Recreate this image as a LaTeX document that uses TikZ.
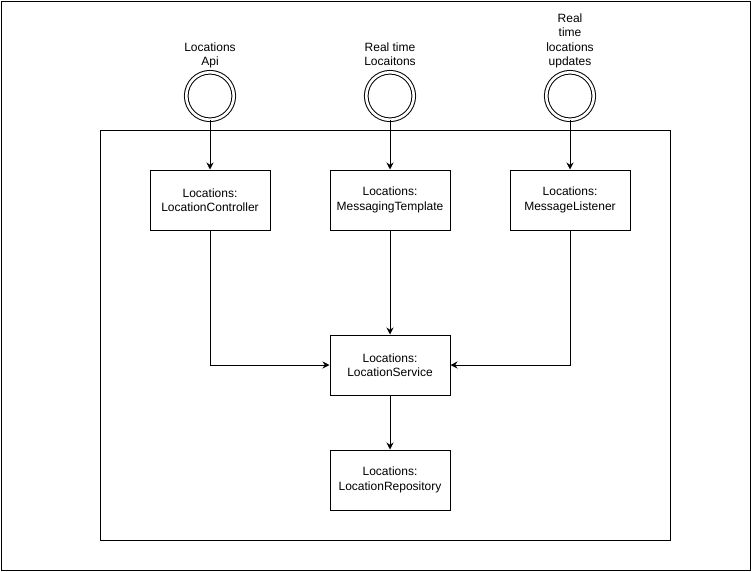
\documentclass[tikz,border=0pt]{standalone}
\usepackage{fontspec}
\setmainfont{Liberation Sans}
\usetikzlibrary{arrows.meta}
\begin{document}
\begin{tikzpicture}[x=1pt,y=-1pt,
  line width=1pt,
  every node/.style={font=\fontsize{12}{14.5}\selectfont},
  comp/.style={draw, minimum width=120pt, minimum height=60pt, align=center, inner sep=0pt},
  port/.style={draw, circle, double, double distance=2.6pt, minimum size=47.5pt, inner sep=0pt},
  lbl/.style={align=center, anchor=south, inner sep=0pt, text depth=2.5pt},
  arr/.style={-{Stealth[length=7pt,width=7pt,inset=2.3pt]}}
]
\useasboundingbox (0,0) rectangle (751,571);
\node[draw, line width=1.3pt, minimum width=749.5pt, minimum height=569.5pt, anchor=north west, inner sep=0pt] (frame) at (0.65,0.65) {};
\node[draw, minimum width=570pt, minimum height=410pt, anchor=north west, inner sep=0pt] (sys) at (100,130) {};

\node[port] (p1) at (210,96) {};
\node[port] (p2) at (390,96) {};
\node[port] (p3) at (570,96) {};

\node[lbl] (l1) at (210,68.5) {Locations\\Api};
\node[lbl] (l2) at (390,68.5) {Real time\\Locaitons};
\node[lbl] (l3) at (570,68.5) {Real\\time\\locations\\updates};

\node[comp] (ctrl) at (210,200) {Locations:\\LocationController};
\node[comp] (tmpl) at (390,200) {Locations:\\MessagingTemplate};
\node[comp] (lst) at (570,200) {Locations:\\MessageListener};
\node[comp] (svc) at (390,365) {Locations:\\LocationService};
\node[comp] (repo) at (390,480) {Locations:\\LocationRepository};

\draw[arr] (p1) -- (ctrl);
\draw[arr] (p2) -- (tmpl);
\draw[arr] (p3) -- (lst);
\draw[arr] (ctrl.south) |- (svc.west);
\draw[arr] (tmpl) -- (svc);
\draw[arr] (lst.south) |- (svc.east);
\draw[arr] (svc) -- (repo);
\end{tikzpicture}
\end{document}
